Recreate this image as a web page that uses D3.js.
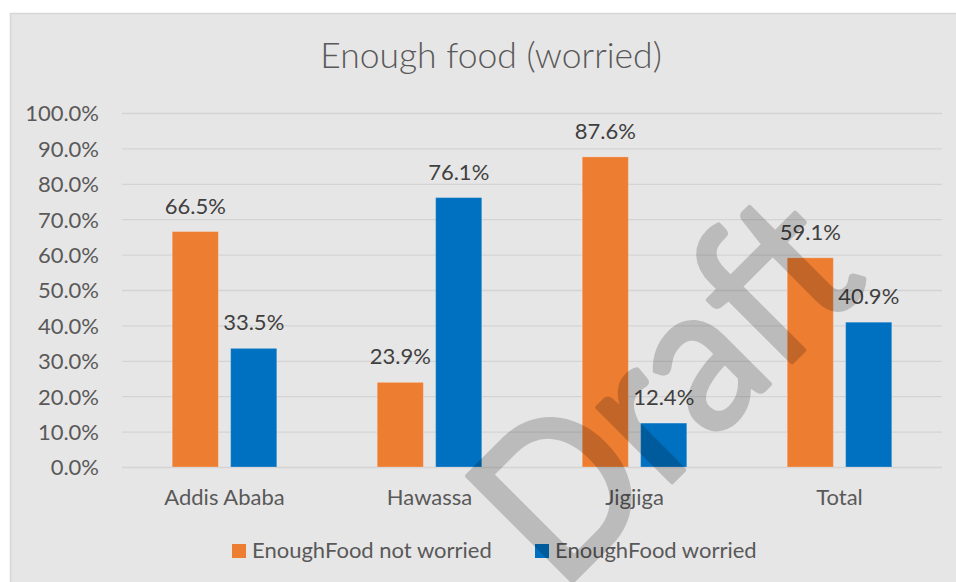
<!DOCTYPE html>
<html>
<head>
<meta charset="utf-8">
<script src="https://cdn.jsdelivr.net/npm/d3@7"></script>
<style>
  html, body { margin: 0; padding: 0; background: #ffffff; }
  svg { display: block; }
  text { font-family: Lato, "Open Sans", sans-serif; }
</style>
</head>
<body>
<svg id="chart" width="956" height="582"></svg>
<script>
// Survey results: share of respondents worried / not worried about having enough food
const categories = ["Addis Ababa", "Hawassa", "Jigjiga", "Total"];
const notWorried = [66.5, 23.9, 87.6, 59.1];
const worried = [33.5, 76.1, 12.4, 40.9];
const seriesNames = ["EnoughFood not worried", "EnoughFood worried"];
const seriesColors = ["#ed7d31", "#0070c0"];
const yTicks = [0, 10, 20, 30, 40, 50, 60, 70, 80, 90, 100];
const titleText = "Enough food (worried)";
const watermarkText = "Draft";

const W = 956, H = 582;
const plot = { left: 122, right: 942, top: 113, bottom: 467 };
const labelSize = 22;

const svg = d3.select("#chart");

// chart area panel
svg.append("rect")
  .attr("x", 10.5).attr("y", 13.5)
  .attr("width", W).attr("height", H)
  .attr("fill", "#e7e6e6")
  .attr("stroke", "#d6d6d6").attr("stroke-width", 1.5);

// title
svg.append("text")
  .attr("x", 491).attr("y", 68)
  .attr("text-anchor", "middle")
  .attr("font-size", 35.5)
  .attr("font-weight", 300)
  .attr("fill", "#595959")
  .text(titleText);

const x = d3.scaleBand().domain(categories).range([plot.left, plot.right]).padding(0);
const y = d3.scaleLinear().domain([0, 100]).range([plot.bottom, plot.top]);

// value axis with gridlines
const yAxis = svg.append("g")
  .attr("transform", `translate(${plot.left},0)`)
  .call(d3.axisLeft(y).tickValues(yTicks)
    .tickSize(-(plot.right - plot.left))
    .tickPadding(23)
    .tickFormat(d => d.toFixed(1) + "%"));
yAxis.select(".domain").remove();
yAxis.selectAll(".tick line").attr("stroke", "#d4d4d4").attr("stroke-width", 1.3);
yAxis.selectAll(".tick text")
  .attr("font-size", labelSize)
  .attr("fill", "#595959")
  .attr("dy", "0.36em");

// category axis labels
const xAxis = svg.append("g")
  .attr("transform", `translate(0,${plot.bottom})`)
  .call(d3.axisBottom(x).tickSize(0).tickPadding(0));
xAxis.select(".domain").remove();
xAxis.selectAll(".tick text")
  .attr("font-size", labelSize)
  .attr("fill", "#595959")
  .attr("y", 38)
  .attr("dy", 0);

// grouped bars
const bw = x.bandwidth();
const barW = bw * 0.225;
const gap = bw * 0.06;
const sub = d3.scaleOrdinal().domain([0, 1]).range([-(gap / 2 + barW), gap / 2]);

const series = [notWorried, worried];
series.forEach((vals, si) => {
  const g = svg.append("g");
  g.selectAll("rect")
    .data(vals)
    .join("rect")
    .attr("x", (d, i) => x(categories[i]) + bw / 2 + sub(si))
    .attr("y", d => y(d))
    .attr("width", barW)
    .attr("height", d => y(0) - y(d))
    .attr("fill", seriesColors[si])
    .attr("stroke", "rgba(255,255,255,0.22)")
    .attr("stroke-width", 1);

  g.selectAll("text")
    .data(vals)
    .join("text")
    .attr("x", (d, i) => x(categories[i]) + bw / 2 + sub(si) + barW / 2)
    .attr("y", d => y(d) - 18)
    .attr("text-anchor", "middle")
    .attr("font-size", labelSize)
    .attr("fill", "#404040")
    .text(d => d.toFixed(1) + "%");
});

// legend
const legendItems = [
  { sq: 232, tx: 252 },
  { sq: 535, tx: 555 }
];
const legend = svg.append("g");
seriesNames.forEach((name, i) => {
  legend.append("rect")
    .attr("x", legendItems[i].sq).attr("y", 544)
    .attr("width", 14).attr("height", 14)
    .attr("fill", seriesColors[i]);
  legend.append("text")
    .attr("x", legendItems[i].tx).attr("y", 558)
    .attr("font-size", labelSize)
    .attr("fill", "#595959")
    .text(name);
});

// diagonal watermark, composited as one translucent layer
svg.append("g")
  .attr("opacity", 0.18)
  .append("text")
  .attr("transform", "translate(560,594) rotate(-45)")
  .attr("font-size", 208)
  .attr("textLength", 440)
  .attr("lengthAdjust", "spacingAndGlyphs")
  .attr("fill", "#000000")
  .attr("stroke", "#000000")
  .attr("stroke-width", 4.5)
  .attr("stroke-linejoin", "round")
  .text(watermarkText);
</script>
</body>
</html>
